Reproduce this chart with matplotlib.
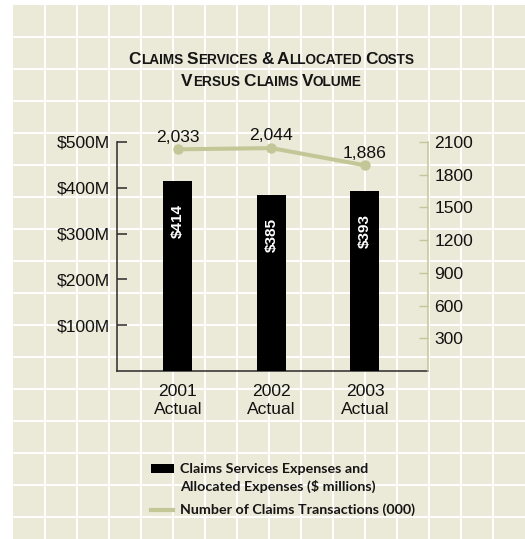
import matplotlib
matplotlib.use('Agg')
import matplotlib.pyplot as plt
from matplotlib.patches import Rectangle
from matplotlib.lines import Line2D

years = ['2001', '2002', '2003']
expenses = [414, 385, 393]          # $ millions
claims = [2033, 2044, 1886]         # thousands of transactions
left_ticks = [100, 200, 300, 400, 500]
left_labels = ['$100M', '$200M', '$300M', '$400M', '$500M']
right_ticks = [300, 600, 900, 1200, 1500, 1800, 2100]

BG = '#EBE9D7'
OLIVE = '#C3C697'
DARK = '#2a2a2a'
W, H = 525, 539

plt.rcParams['font.family'] = ['Liberation Sans', 'DejaVu Sans']

fig = plt.figure(figsize=(W / 100, H / 100), dpi=100)
fig.patch.set_facecolor('white')


def fx(x):
    return x / W


def fy(y):
    return 1 - y / H


# beige panel with white grid
fig.add_artist(Rectangle((fx(13), 0), 1 - fx(13), fy(5), transform=fig.transFigure,
                         facecolor=BG, edgecolor='none', zorder=-10))
for x in range(45, W, 32):
    fig.add_artist(Line2D([fx(x), fx(x)], [0, fy(5)], transform=fig.transFigure,
                          color='white', lw=1.4, zorder=-9))
for y in range(37, H, 32):
    fig.add_artist(Line2D([fx(13), 1], [fy(y), fy(y)], transform=fig.transFigure,
                          color='white', lw=1.4, zorder=-9))

ax = fig.add_axes([fx(117), fy(371), fx(428) - fx(117), fy(142) - fy(371)])
ax.set_facecolor('none')
x = list(range(len(years)))
bars = ax.bar(x, expenses, width=0.31, color='black', zorder=3)
ax.set_xlim(-0.652, 2.674)
ax.set_ylim(0, 500)
ax.set_yticks(left_ticks)
ax.set_yticklabels(left_labels)
ax.set_xticks(x)
ax.set_xticklabels([f'{y}\nActual' for y in years], linespacing=1.25)
ax.tick_params(axis='y', direction='in', length=7, width=1.1, color=DARK,
               labelsize=12.6, pad=5, labelcolor='#111')
ax.tick_params(axis='x', length=0, labelsize=12.6, pad=9, labelcolor='#111')
for s in ['top', 'right']:
    ax.spines[s].set_visible(False)
for s in ['left', 'bottom']:
    ax.spines[s].set_color(DARK)
    ax.spines[s].set_linewidth(1.1)

for xi, v in zip(x, expenses):
    ax.annotate(f'${v}', (xi, v), xytext=(0, -16.5), textcoords='offset points',
                rotation=90, ha='center', va='top', color='white',
                fontsize=11, fontweight='bold')

ax2 = ax.twinx()
ax2.set_ylim(0, 2100)
ax2.set_yticks(right_ticks)
ax2.plot(x, claims, color=OLIVE, lw=2.9, marker='o', markersize=6.5, zorder=4)
ax2.tick_params(axis='y', direction='in', length=6.5, width=1, color=OLIVE,
                labelsize=12.6, pad=4.5, labelcolor='#111')
for s in ['top', 'left', 'bottom']:
    ax2.spines[s].set_visible(False)
ax2.spines['right'].set_color(OLIVE)
ax2.spines['right'].set_linewidth(1.1)
for xi, v in zip(x, claims):
    ax2.annotate(f'{v:,}', (xi, v), xytext=(0, 8.8), textcoords='offset points',
                 ha='center', va='center', fontsize=12.6, color='#111')

renderer = fig.canvas.get_renderer()
title_kw = dict(fontweight='bold', color='#151515', family=['Liberation Sans'])


def text_width(s, size):
    t = fig.text(0, 0, s, fontsize=size, **title_kw)
    w = t.get_window_extent(renderer).width
    t.remove()
    return w


def small_caps(s, cx, baseline, big, small):
    pieces = []
    space = text_width('A A', big) - text_width('AA', big)
    for i, word in enumerate(s.split(' ')):
        if i:
            pieces.append((None, space))
        run, low = '', None
        for ch in word:
            is_low = ch.islower()
            if run and is_low != low:
                pieces.append((run, small if low else big))
                run = ''
            run += ch.upper() if is_low else ch
            low = is_low
        pieces.append((run, small if low else big))
    widths = [p[1] if p[0] is None else text_width(p[0], p[1]) for p in pieces]
    xpos = cx - sum(widths) / 2
    for (txt, size), w in zip(pieces, widths):
        if txt is not None:
            fig.text(fx(xpos), fy(baseline), txt, fontsize=size, va='baseline',
                     ha='left', **title_kw)
        xpos += w


small_caps('Claims Services & Allocated Costs', 271.5, 63.5, 12.4, 9.8)
small_caps('Versus Claims Volume', 271.5, 85.5, 12.4, 9.8)

# legend
leg_kw = dict(fontsize=10.3, fontweight='bold', color='#151515', family=['Lato'],
              va='center', ha='left')
fig.add_artist(Rectangle((fx(151), fy(473)), fx(174) - fx(151), fy(464) - fy(473),
                         transform=fig.transFigure, facecolor='black', edgecolor='none'))
fig.text(fx(180), fy(469), 'Claims Services Expenses and', **leg_kw)
fig.text(fx(180), fy(486), 'Allocated Expenses ($ millions)', **leg_kw)
fig.add_artist(Line2D([fx(151), fx(173)], [fy(510), fy(510)], transform=fig.transFigure,
                      color=OLIVE, lw=3))
fig.text(fx(180), fy(510), 'Number of Claims Transactions (000)', **leg_kw)

fig.savefig('out.png', dpi=100, facecolor=fig.get_facecolor())
